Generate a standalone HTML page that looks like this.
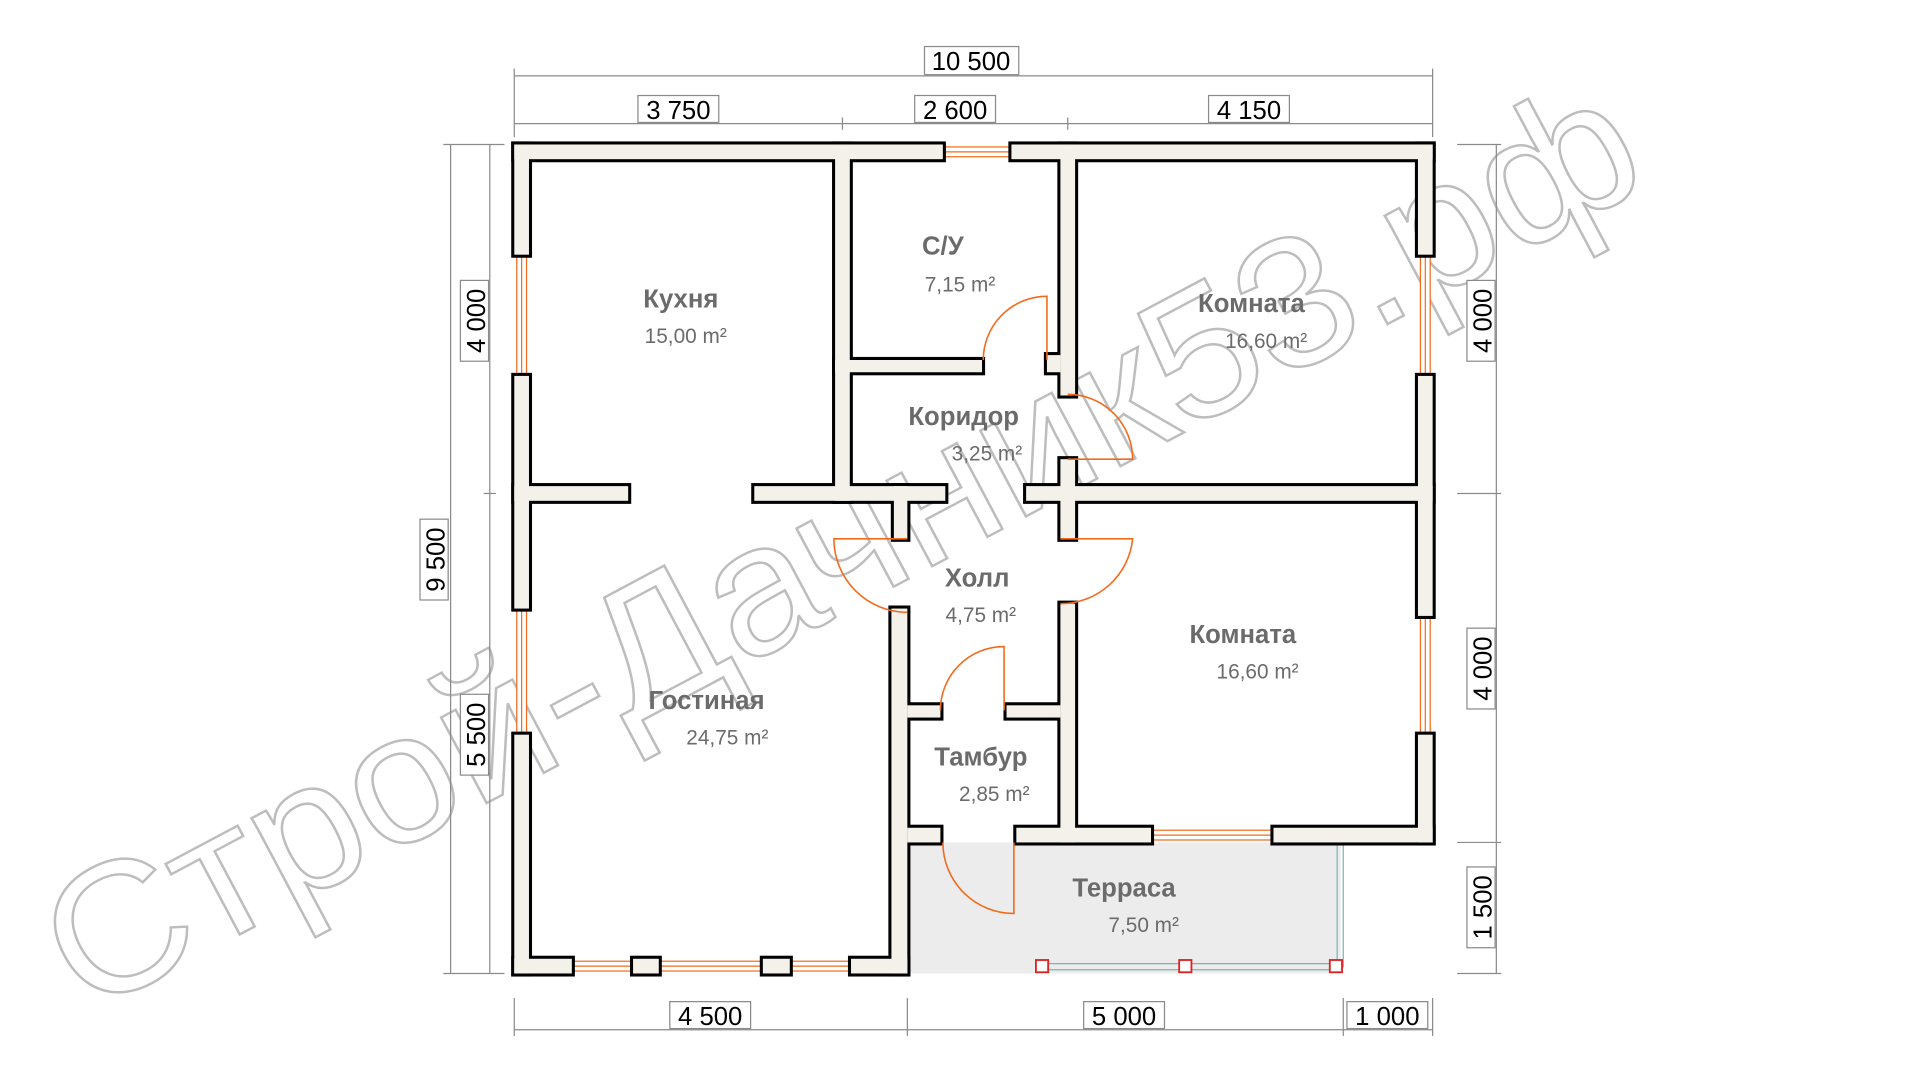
<!DOCTYPE html>
<html><head><meta charset="utf-8"><style>
html,body{margin:0;padding:0;background:#fff;width:1920px;height:1080px;overflow:hidden}
svg{display:block}
.dim{stroke:#8a8a8a;stroke-width:1;fill:none}
.lab{font-family:"Liberation Sans",sans-serif;font-size:21px;fill:#000}
.box{fill:#fff;stroke:#8a8a8a;stroke-width:1}
.rn{font-family:"Liberation Sans","DejaVu Sans",sans-serif;font-weight:bold;font-size:21px;fill:#6b6b6b;text-anchor:middle}
.ra{font-family:"Liberation Sans","DejaVu Sans",sans-serif;font-size:17px;fill:#6b6b6b;text-anchor:middle}
.door{stroke:#f26b1d;stroke-width:1.3;fill:none}
.win{stroke:#f26b1d;stroke-width:1;fill:#fff}
</style></head><body>
<svg width="1920" height="1080" viewBox="0 0 1568 882" xmlns="http://www.w3.org/2000/svg">
<!-- watermark -->
<text x="0" y="0" transform="translate(70,830) rotate(-28)" font-family="Liberation Sans,DejaVu Sans,sans-serif" font-size="150" fill="none" stroke="#bdbdbd" stroke-width="2" textLength="1450" lengthAdjust="spacingAndGlyphs">Строй-Дачник53.рф</text>

<!-- terrace -->
<rect x="741" y="688" width="354" height="107" fill="#ececec"/>
<line x1="1092" y1="688" x2="1092" y2="790" stroke="#7fb0b8" stroke-width="1"/>
<line x1="1097" y1="688" x2="1097" y2="790" stroke="#7fb0b8" stroke-width="1"/>
<line x1="851" y1="787" x2="1092" y2="787" stroke="#7fb0b8" stroke-width="1"/>
<line x1="851" y1="792" x2="1092" y2="792" stroke="#7fb0b8" stroke-width="1"/>
<g fill="#fff" stroke="#d22" stroke-width="1.5">
<rect x="846" y="784" width="10" height="10"/><rect x="963" y="784" width="10" height="10"/><rect x="1086" y="784" width="10" height="10"/>
</g>

<!-- windows -->
<g class="win">
<rect x="770" y="120" width="56" height="8"/><line x1="770" y1="124" x2="826" y2="124"/>
<rect x="422" y="208" width="8" height="99"/><line x1="426" y1="208" x2="426" y2="307"/>
<rect x="422" y="497" width="8" height="103"/><line x1="426" y1="497" x2="426" y2="600"/>
<rect x="1160" y="208" width="8" height="99"/><line x1="1164" y1="208" x2="1164" y2="307"/>
<rect x="1160" y="503" width="8" height="97"/><line x1="1164" y1="503" x2="1164" y2="600"/>
<rect x="940" y="678" width="100" height="8"/><line x1="940" y1="682" x2="1040" y2="682"/>
<rect x="467" y="785" width="228" height="8"/><line x1="467" y1="789" x2="695" y2="789"/>
</g>

<!-- walls: outline pass -->
<g fill="#000" stroke="#000" stroke-width="5">
<rect x="420" y="118" width="350" height="12"/>
<rect x="826" y="118" width="344" height="12"/>
<rect x="420" y="118" width="12" height="90"/>
<rect x="420" y="307" width="12" height="190"/>
<rect x="420" y="600" width="12" height="195"/>
<rect x="1158" y="118" width="12" height="90"/>
<rect x="1158" y="307" width="12" height="196"/>
<rect x="1158" y="600" width="12" height="88"/>
<rect x="420" y="783" width="47" height="12"/>
<rect x="517" y="783" width="21" height="12"/>
<rect x="623" y="783" width="22" height="12"/>
<rect x="695" y="783" width="46" height="12"/>
<rect x="1040" y="676" width="130" height="12"/>
<rect x="830" y="676" width="110" height="12"/>
<rect x="741" y="676" width="27" height="12"/>
<rect x="682" y="118" width="12" height="291"/>
<rect x="420" y="397" width="93" height="12"/>
<rect x="616" y="397" width="156" height="12"/>
<rect x="730" y="397" width="11" height="43"/>
<rect x="838" y="397" width="332" height="12"/>
<rect x="866" y="118" width="12" height="205"/>
<rect x="866" y="375" width="12" height="65"/>
<rect x="682" y="294" width="120" height="10"/>
<rect x="855" y="290" width="11" height="14"/>
<rect x="728" y="497" width="13" height="298"/>
<rect x="866" y="493" width="12" height="195"/>
<rect x="741" y="576" width="27" height="10"/>
<rect x="822" y="576" width="44" height="10"/>
</g>
<g fill="#f3f1ea">
<rect x="420" y="118" width="350" height="12"/><rect x="826" y="118" width="344" height="12"/>
<rect x="420" y="118" width="12" height="90"/><rect x="420" y="307" width="12" height="190"/><rect x="420" y="600" width="12" height="195"/>
<rect x="1158" y="118" width="12" height="90"/><rect x="1158" y="307" width="12" height="196"/><rect x="1158" y="600" width="12" height="88"/>
<rect x="420" y="783" width="47" height="12"/><rect x="517" y="783" width="21" height="12"/><rect x="623" y="783" width="22" height="12"/><rect x="695" y="783" width="46" height="12"/>
<rect x="1040" y="676" width="130" height="12"/><rect x="830" y="676" width="110" height="12"/><rect x="741" y="676" width="27" height="12"/>
<rect x="682" y="118" width="12" height="291"/><rect x="420" y="397" width="93" height="12"/><rect x="616" y="397" width="156" height="12"/>
<rect x="730" y="397" width="11" height="43"/><rect x="838" y="397" width="332" height="12"/>
<rect x="866" y="118" width="12" height="205"/><rect x="866" y="375" width="12" height="65"/>
<rect x="682" y="294" width="120" height="10"/><rect x="855" y="290" width="11" height="14"/>
<rect x="728" y="497" width="13" height="298"/><rect x="866" y="493" width="12" height="195"/>
<rect x="741" y="576" width="27" height="10"/><rect x="822" y="576" width="44" height="10"/>
</g>

<!-- doors -->
<g class="door">
<path d="M855 294 L855 242 A52 52 0 0 0 803 294"/>
<path d="M872 375 L925 375 A53 53 0 0 0 872 322"/>
<path d="M741 440 L681 440 A60 60 0 0 0 741 500"/>
<path d="M866 440 L925 440 A59 59 0 0 1 866 493"/>
<path d="M820 580 L820 528 A52 52 0 0 0 768 580"/>
<path d="M828 688 L828 746 A58 58 0 0 1 770 688"/>
</g>

<!-- dimensions -->
<g class="dim">
<line x1="420" y1="62" x2="1170" y2="62"/>
<line x1="420" y1="101" x2="1170" y2="101"/>
<line x1="420" y1="56" x2="420" y2="112"/><line x1="1170" y1="56" x2="1170" y2="112"/>
<line x1="688" y1="96" x2="688" y2="106"/><line x1="872" y1="96" x2="872" y2="106"/>
<line x1="368" y1="118" x2="368" y2="795"/><line x1="400" y1="118" x2="400" y2="795"/>
<line x1="362" y1="118" x2="412" y2="118"/><line x1="362" y1="795" x2="412" y2="795"/><line x1="395" y1="403" x2="405" y2="403"/>
<line x1="1222" y1="118" x2="1222" y2="795"/>
<line x1="1190" y1="118" x2="1226" y2="118"/><line x1="1190" y1="403" x2="1226" y2="403"/><line x1="1190" y1="688" x2="1226" y2="688"/><line x1="1190" y1="795" x2="1226" y2="795"/>
<line x1="420" y1="841" x2="1170" y2="841"/>
<line x1="420" y1="815" x2="420" y2="846"/><line x1="741" y1="815" x2="741" y2="846"/><line x1="1097" y1="815" x2="1097" y2="846"/><line x1="1170" y1="815" x2="1170" y2="846"/>
</g>
<g>
<rect class="box" x="755" y="38" width="77" height="23"/><text class="lab" x="793" y="57" text-anchor="middle">10 500</text>
<rect class="box" x="521" y="78" width="66" height="22"/><text class="lab" x="554" y="97" text-anchor="middle">3 750</text>
<rect class="box" x="747" y="78" width="66" height="22"/><text class="lab" x="780" y="97" text-anchor="middle">2 600</text>
<rect class="box" x="987" y="78" width="66" height="22"/><text class="lab" x="1020" y="97" text-anchor="middle">4 150</text>
<rect class="box" x="547" y="818" width="66" height="22"/><text class="lab" x="580" y="837" text-anchor="middle">4 500</text>
<rect class="box" x="885" y="818" width="66" height="22"/><text class="lab" x="918" y="837" text-anchor="middle">5 000</text>
<rect class="box" x="1100" y="818" width="66" height="22"/><text class="lab" x="1133" y="837" text-anchor="middle">1 000</text>
<g transform="translate(355,457) rotate(-90)"><rect class="box" x="-33" y="-12" width="66" height="23"/><text class="lab" x="0" y="8" text-anchor="middle">9 500</text></g>
<g transform="translate(388,262) rotate(-90)"><rect class="box" x="-33" y="-12" width="66" height="23"/><text class="lab" x="0" y="8" text-anchor="middle">4 000</text></g>
<g transform="translate(388,600) rotate(-90)"><rect class="box" x="-33" y="-12" width="66" height="23"/><text class="lab" x="0" y="8" text-anchor="middle">5 500</text></g>
<g transform="translate(1210,262) rotate(-90)"><rect class="box" x="-33" y="-12" width="66" height="23"/><text class="lab" x="0" y="8" text-anchor="middle">4 000</text></g>
<g transform="translate(1210,546) rotate(-90)"><rect class="box" x="-33" y="-12" width="66" height="23"/><text class="lab" x="0" y="8" text-anchor="middle">4 000</text></g>
<g transform="translate(1210,741) rotate(-90)"><rect class="box" x="-33" y="-12" width="66" height="23"/><text class="lab" x="0" y="8" text-anchor="middle">1 500</text></g>
</g>

<!-- room labels -->
<text class="rn" x="556" y="251">Кухня</text><text class="ra" x="560" y="280">15,00 m²</text>
<text class="rn" x="770" y="208">С/У</text><text class="ra" x="784" y="238">7,15 m²</text>
<text class="rn" x="1022" y="255">Комната</text><text class="ra" x="1034" y="284">16,60 m²</text>
<text class="rn" x="787" y="347">Коридор</text><text class="ra" x="806" y="376">3,25 m²</text>
<text class="rn" x="798" y="479">Холл</text><text class="ra" x="801" y="508">4,75 m²</text>
<text class="rn" x="1015" y="525">Комната</text><text class="ra" x="1027" y="554">16,60 m²</text>
<text class="rn" x="577" y="579">Гостиная</text><text class="ra" x="594" y="608">24,75 m²</text>
<text class="rn" x="801" y="625">Тамбур</text><text class="ra" x="812" y="654">2,85 m²</text>
<text class="rn" x="918" y="732">Терраса</text><text class="ra" x="934" y="761">7,50 m²</text>
</svg>
</body></html>
